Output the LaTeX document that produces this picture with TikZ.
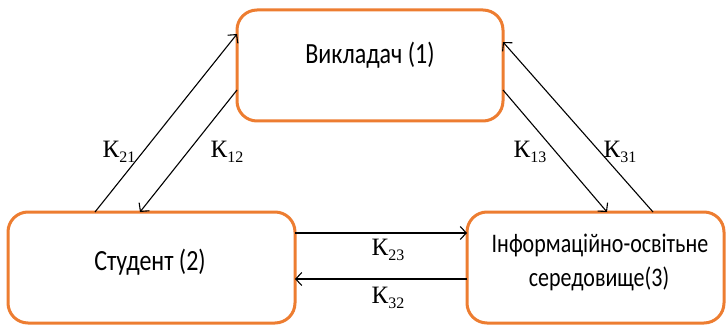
\documentclass[tikz,border=0pt]{standalone}
\usepackage{fontspec}
\setmainfont{Carlito}
\newfontfamily\lblfont{Liberation Serif}
\usetikzlibrary{arrows.meta}
\definecolor{boxorange}{RGB}{237,125,49}
\tikzset{
  box/.style={draw=boxorange, line width=3pt, rounded corners=20pt, inner sep=0pt},
  boxtext/.style={font=\fontsize{24}{28}\selectfont, align=center, inner sep=0pt},
  boxtextsmall/.style={font=\fontsize{22}{26}\selectfont, align=center, inner sep=0pt},
  conn/.style={line width=1.1pt, -{Straight Barb[length=6pt,width=13pt,line width=1.1pt]}},
  klabel/.style={font=\lblfont\fontsize{25}{28}\selectfont, inner sep=0pt}
}
\newcommand{\kk}[1]{К\raisebox{-5pt}{\fontsize{16}{17}\selectfont #1}}
\newcommand{\tall}[1]{\scalebox{1}[1.22]{#1}}
\begin{document}
\begin{tikzpicture}[x=1pt,y=-1pt]
\useasboundingbox (0,0) rectangle (726,326);
\node[box, minimum width=266pt, minimum height=111pt] (b1) at (370,65.5) {};
\node[box, minimum width=287pt, minimum height=111pt] (b2) at (151.5,267.5) {};
\node[box, minimum width=257pt, minimum height=111pt] (b3) at (595.5,267.5) {};
\node[boxtext] (t1) at (370,55) {\tall{Викладач (1)}};
\node[boxtext] (t2) at (150,262) {\tall{Студент (2)}};
\node[boxtextsmall] (t3a) at (600,245) {\tall{Інформаційно-освітьне}};
\node[boxtextsmall] (t3b) at (599,279) {\tall{середовище(3)}};
% endpoints
\coordinate (p21s) at (95,212);
\coordinate (p21e) at (237,34);
\coordinate (p12s) at (237,90);
\coordinate (p12e) at (140,212);
\coordinate (p13s) at (503,90);
\coordinate (p13e) at (607,212);
\coordinate (p31s) at (653,212);
\coordinate (p31e) at (503,42);
\coordinate (p23s) at (295,233);
\coordinate (p23e) at (467,233);
\coordinate (p32s) at (467,279);
\coordinate (p32e) at (295,279);
\draw[conn] (p21s) -- (p21e);
\draw[conn] (p12s) -- (p12e);
\draw[conn] (p13s) -- (p13e);
\draw[conn] (p31s) -- (p31e);
\draw[conn] (p23s) -- (p23e);
\draw[conn] (p32s) -- (p32e);
\node[klabel] (k21) at (119,152) {\kk{21}};
\node[klabel] (k12) at (227,152) {\kk{12}};
\node[klabel] (k13) at (530,152) {\kk{13}};
\node[klabel] (k31) at (620,152) {\kk{31}};
\node[klabel] (k23) at (388,250) {\kk{23}};
\node[klabel] (k32) at (388,298) {\kk{32}};
\end{tikzpicture}
\end{document}
